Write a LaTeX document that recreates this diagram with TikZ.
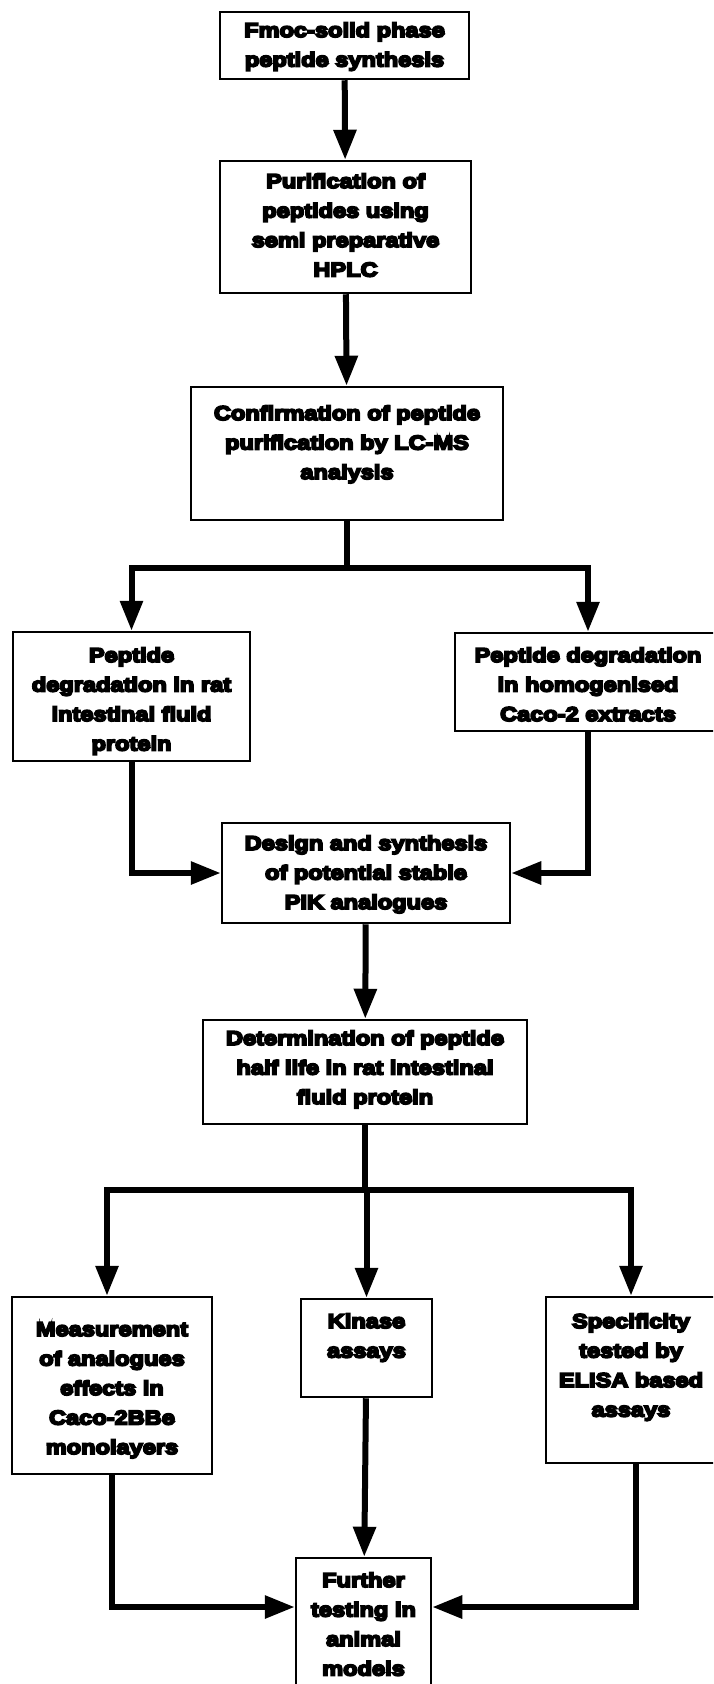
\documentclass[tikz,border=0pt]{standalone}
\usepackage{fontspec}
\newfontfamily\heavyfont{Liberation Sans}[UprightFont={* Bold}, FakeStretch=1.18, FakeBold=9]
\usetikzlibrary{arrows.meta}

% box content: width, height, distance from top edge to first baseline, text
\newcommand{\flowtext}[4]{\parbox[c][#2][t]{#1}{\centering\rule{0pt}{#3}#4}}

\tikzset{
  stage/.style={draw, line width=2.5pt, inner sep=0pt, fill=white,
    font=\heavyfont\fontsize{20pt}{29.5pt}\selectfont},
  flow/.style={line width=6pt, -{Triangle[length=30pt,width=22pt]}},
  link/.style={line width=6pt},
}

\begin{document}
\begin{tikzpicture}[x=1pt, y=-1pt]
\useasboundingbox (0,0) rectangle (713,1684);
\clip (0,0) rectangle (713,1684);

% process stages
\node[stage] (fmoc) at (344.5,45.5)
  {\flowtext{249pt}{67pt}{25pt}{Fmoc-solid phase\\peptide synthesis}};
\node[stage] (purif) at (345.5,227)
  {\flowtext{251pt}{132pt}{27pt}{Purification of\\peptides using\\semi preparative\\HPLC}};
\node[stage] (confirm) at (347,453.5)
  {\flowtext{312pt}{133pt}{33pt}{Confirmation of peptide\\purification by LC-MS\\analysis}};
\node[stage] (degL) at (131.5,696.5)
  {\flowtext{237pt}{129pt}{30pt}{Peptide\\degradation in rat\\intestinal fluid\\protein}};
\node[stage] (degR) at (588,682)
  {\flowtext{266pt}{98pt}{29pt}{Peptide degradation\\in homogenised\\Caco-2 extracts}};
\node[stage] (design) at (366,873)
  {\flowtext{288pt}{100pt}{27pt}{Design and synthesis\\of potential stable\\PIK analogues}};
\node[stage] (determ) at (365,1072)
  {\flowtext{324pt}{104pt}{25pt}{Determination of peptide\\half life in rat intestinal\\fluid protein}};
\node[stage] (meas) at (112,1385.5)
  {\flowtext{200pt}{177pt}{39pt}{Measurement\\of analogues\\effects in\\Caco-2BBe\\monolayers}};
\node[stage] (kinase) at (366.5,1348)
  {\flowtext{131pt}{98pt}{29pt}{Kinase\\assays}};
\node[stage] (spec) at (631,1380)
  {\flowtext{170pt}{166pt}{31pt}{Specificity\\tested by\\ELISA based\\assays}};
\node[stage] (further) at (363.5,1628)
  {\flowtext{135pt}{140pt}{29pt}{Further\\testing in\\animal\\models}};

% branch points
\coordinate (split1) at (confirm.south |- 0,568);
\coordinate (split2) at (determ.south |- 0,1190);

% connectors
\draw[flow] (fmoc) -- (purif);
\draw[flow] (purif) -- (confirm);
\draw[link] (confirm.south) -- (split1);
\draw[flow] (split1) -| (degL.north);
\draw[flow] (split1) -| (degR.north);
\draw[flow] (degL.south) |- (design.west);
\draw[flow] (degR.south) |- (design.east);
\draw[flow] (design) -- (determ);
\draw[link] (determ.south) -- (split2);
\draw[flow] (split2) -| ([xshift=-5pt]meas.north);
\draw[flow] (split2) -- (split2 -| kinase.north) -- (kinase.north);
\draw[flow] (split2) -| (spec.north);
\draw[flow] (meas.south) |- ([yshift=21pt]further.west);
\draw[flow] (kinase) -- (further);
\draw[flow] ([xshift=5pt]spec.south) |- ([yshift=21pt]further.east);
\end{tikzpicture}
\end{document}
